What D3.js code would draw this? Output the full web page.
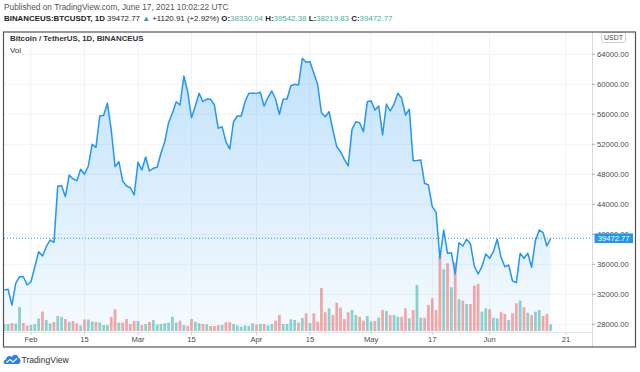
<!DOCTYPE html>
<html>
<head>
<meta charset="utf-8">
<style>
body { margin: 0; background: #fff; }
svg { display: block; font-family: "Liberation Sans", Arial, sans-serif; }
</style>
</head>
<body>
<svg id="chart" width="640" height="372"></svg>
<script src="https://cdn.jsdelivr.net/npm/d3@7"></script>
<script>
// daily closes, BINANCEUS BTCUSDT, from 2021-01-25 to 2021-06-17
var startDate = "2021-01-25";
var closes = [
  32570, 32670, 30570, 33470, 34350, 34340, 33240, 33680, 35680, 37680,
  37110, 38350, 39240, 38930, 46440, 46480, 45010, 47910, 47370, 47150,
  48670, 48000, 49110, 52000, 51600, 55810, 55830, 57470, 53910, 49010,
  49680, 47110, 46440, 46210, 45240, 49600, 48570, 50310, 48440, 48800,
  48930, 50800, 52350, 54880, 56130, 57680, 57240, 61110, 59010, 55550,
  57110, 58800, 57680, 58040, 58000, 57240, 54130, 54350, 52350, 51370,
  55010, 55770, 55780, 57680, 58800, 58810, 58790, 58930, 57110, 58210,
  59110, 58040, 56000, 58000, 58040, 59810, 60000, 59910, 63470, 62950,
  63050, 61470, 60000, 56210, 55680, 56350, 53910, 51680, 51010, 50000,
  49110, 54000, 55010, 54880, 53680, 57680, 57800, 56570, 57110, 53240,
  57370, 56440, 57370, 58800, 58130, 55910, 56670, 49810, 49850, 49910,
  46800, 46570, 43680, 42930, 36800, 40570, 37470, 37550, 34710, 38880,
  38440, 39330, 38710, 35770, 34710, 35680, 37370, 36800, 37680, 39330,
  36930, 35680, 35910, 33770, 33550, 37470, 36800, 37470, 35600, 39150,
  40570, 40210, 38440, 39472.77
];
var volumes = [
  700, 700, 800, 750, 2400, 800, 550, 600, 700, 1250,
  1950, 1100, 750, 900, 1500, 1400, 1200, 900, 1000, 750,
  550, 1150, 1150, 950, 900, 850, 600, 600, 1400, 2150,
  850, 850, 1200, 700, 1000, 1000, 600, 700, 900, 1100,
  650, 700, 770, 830, 1430, 830, 1030, 600, 500, 1200,
  930, 770, 700, 670, 500, 500, 570, 600, 870, 870,
  700, 570, 430, 570, 500, 770, 630, 700, 700, 570,
  700, 1030, 1600, 700, 700, 1170, 1100, 830, 1300, 1770,
  800, 1770, 930, 4300, 1870, 2270, 1600, 2830, 2330, 1200,
  1870, 2100, 1600, 1430, 1030, 1500, 930, 1000, 1330, 2100,
  2000, 1600, 1600, 1430, 1430, 2270, 1270, 2100, 4600, 1330,
  1330, 2600, 3270, 2100, 7500, 6170, 6770, 4370, 6870, 3170,
  3030, 2700, 2700, 4530, 4700, 1930, 2270, 2170, 1330, 1270,
  1870, 1700, 1100, 1770, 2770, 3030, 2370, 1830, 1600, 1930,
  2100, 1500, 1700, 670
];
var priceTicks = [28000, 32000, 36000, 40000, 44000, 48000, 52000, 56000, 60000, 64000];
var timeTicks = ["2021-02-01", "2021-02-15", "2021-03-01", "2021-03-15", "2021-04-01",
  "2021-04-15", "2021-05-01", "2021-05-17", "2021-06-01", "2021-06-21"];
var timeLabels = ["Feb", "15", "Mar", "15", "Apr", "15", "May", "17", "Jun", "21"];
var ohlcNames = ["O", "H", "L", "C"];
var ohlcValues = ["38330.04", "39542.38", "38219.83", "39472.77"];
var lastClose = 39472.77;

var svg = d3.select("#chart");
var blue = "#2196f3", grid = "#f0f3fa", axisText = "#4a4a4a";
var pane = { left: 4, right: 592, top: 32, bottom: 332 };

var parse = d3.utcParse("%Y-%m-%d");
var t0 = parse(startDate);
var data = closes.map(function(c, i) {
  return { date: d3.utcDay.offset(t0, i), close: c, vol: volumes[i],
           up: i === 0 || c >= closes[i - 1] };
});

var x = d3.scaleUtc().domain([parse("2021-02-01"), parse("2021-06-21")]).range([31, 566]);
var y = d3.scaleLinear().domain([28000, 64000]).range([324.3, 54.3]);
var yv = d3.scaleLinear().domain([0, d3.max(volumes)]).range([pane.bottom - 1, 256]);
var step = x(d3.utcDay.offset(t0, 1)) - x(t0);

var defs = svg.append("defs");
defs.append("clipPath").attr("id", "paneClip").append("rect")
  .attr("x", pane.left).attr("y", pane.top)
  .attr("width", pane.right - pane.left).attr("height", pane.bottom - pane.top);
var grad = defs.append("linearGradient").attr("id", "areaFill")
  .attr("gradientUnits", "userSpaceOnUse")
  .attr("x1", 0).attr("x2", 0).attr("y1", y(64000)).attr("y2", pane.bottom);
grad.append("stop").attr("offset", 0).attr("stop-color", blue).attr("stop-opacity", 0.28);
grad.append("stop").attr("offset", 1).attr("stop-color", blue).attr("stop-opacity", 0.04);

// header
svg.append("text").attr("x", 4).attr("y", 10)
  .attr("font-size", 8.3).attr("fill", "#555")
  .text("Published on TradingView.com, June 17, 2021 10:02:22 UTC");

var h2 = svg.append("text").attr("x", 4).attr("y", 20.5).attr("font-size", 7.9).attr("fill", "#222");
h2.append("tspan").attr("font-weight", "bold").text("BINANCEUS:BTCUSDT, 1D ");
h2.append("tspan").text("39472.77 ");
h2.append("tspan").attr("fill", "#26a69a").text("\u25B2");
h2.append("tspan").text(" +1120.91 (+2.92%) ");
ohlcNames.forEach(function(n, i) {
  h2.append("tspan").attr("font-weight", "bold").text(n + ":");
  h2.append("tspan").attr("fill", "#3bb3a6").text(ohlcValues[i] + (i < 3 ? " " : ""));
});

var plot = svg.append("g").attr("clip-path", "url(#paneClip)");

// grid
plot.selectAll(".hgrid").data(priceTicks).enter().append("line")
  .attr("x1", pane.left).attr("x2", pane.right)
  .attr("y1", function(d) { return y(d); }).attr("y2", function(d) { return y(d); })
  .attr("stroke", grid);
plot.selectAll(".vgrid").data(timeTicks).enter().append("line")
  .attr("x1", function(d) { return x(parse(d)); }).attr("x2", function(d) { return x(parse(d)); })
  .attr("y1", pane.top).attr("y2", pane.bottom)
  .attr("stroke", grid);

// area
plot.append("path").datum(data)
  .attr("fill", "url(#areaFill)")
  .attr("d", d3.area().x(function(d) { return x(d.date); })
    .y0(pane.bottom).y1(function(d) { return y(d.close); }));

// volume
plot.selectAll(".vol").data(data).enter().append("rect")
  .attr("x", function(d) { return x(d.date) - step * 0.36; })
  .attr("width", step * 0.72)
  .attr("y", function(d) { return yv(d.vol); })
  .attr("height", function(d) { return pane.bottom - 1 - yv(d.vol); })
  .attr("fill", function(d) { return d.up ? "#26a69a" : "#ef5350"; })
  .attr("fill-opacity", 0.5);

// price line
plot.append("path").datum(data)
  .attr("fill", "none").attr("stroke", blue).attr("stroke-width", 1.5)
  .attr("stroke-linejoin", "round")
  .attr("d", d3.line().x(function(d) { return x(d.date); }).y(function(d) { return y(d.close); }));

// last price line
plot.append("line")
  .attr("x1", pane.left).attr("x2", pane.right)
  .attr("y1", y(lastClose)).attr("y2", y(lastClose))
  .attr("stroke", blue).attr("stroke-dasharray", "1,2");

// chart title
svg.append("text").attr("x", 10).attr("y", 41).attr("font-size", 7.9)
  .attr("font-weight", "bold").attr("fill", "#333")
  .text("Bitcoin / TetherUS, 1D, BINANCEUS");
svg.append("text").attr("x", 10).attr("y", 53).attr("font-size", 7.9)
  .attr("fill", "#333").text("Vol");

// price axis
svg.append("line").attr("x1", pane.right + 0.5).attr("x2", pane.right + 0.5)
  .attr("y1", pane.top).attr("y2", 347).attr("stroke", "#d9d9d9");
var pa = svg.append("g");
pa.selectAll("line").data(priceTicks).enter().append("line")
  .attr("x1", pane.right).attr("x2", pane.right + 3)
  .attr("y1", function(d) { return y(d); }).attr("y2", function(d) { return y(d); })
  .attr("stroke", "#aaa");
pa.selectAll("text").data(priceTicks).enter().append("text")
  .attr("x", 597).attr("y", function(d) { return y(d); })
  .attr("dy", "0.35em").attr("font-size", 7.6).attr("fill", axisText)
  .text(function(d) { return d3.format(".2f")(d); });

// last price label sits over the 40000 tick, as in the snapshot
var ly = y(lastClose);
svg.append("rect").attr("x", 594.5).attr("y", ly - 4.8).attr("width", 38.5).attr("height", 9.6)
  .attr("fill", blue);
svg.append("text").attr("x", 613.7).attr("y", ly).attr("dy", "0.35em")
  .attr("text-anchor", "middle").attr("font-size", 7.6).attr("fill", "#fff")
  .text(d3.format(".2f")(lastClose));

svg.append("rect").attr("x", 601.5).attr("y", 32.5).attr("width", 24).attr("height", 10)
  .attr("rx", 2).attr("fill", "#fff").attr("stroke", "#cfcfcf");
svg.append("text").attr("x", 613.5).attr("y", 37.5).attr("dy", "0.35em")
  .attr("text-anchor", "middle").attr("font-size", 7).attr("fill", axisText).text("USDT");

// time axis
svg.append("line").attr("x1", pane.left).attr("x2", pane.right)
  .attr("y1", pane.bottom + 0.5).attr("y2", pane.bottom + 0.5).attr("stroke", "#e6e6e6");
var ta = svg.append("g");
ta.selectAll("line").data(timeTicks).enter().append("line")
  .attr("x1", function(d) { return x(parse(d)); }).attr("x2", function(d) { return x(parse(d)); })
  .attr("y1", pane.bottom).attr("y2", pane.bottom + 3).attr("stroke", "#ccc");
ta.selectAll("text").data(timeTicks).enter().append("text")
  .attr("x", function(d) { return x(parse(d)); }).attr("y", 339.5)
  .attr("dy", "0.35em").attr("text-anchor", "middle")
  .attr("font-size", 7.6).attr("fill", axisText)
  .text(function(d, i) { return timeLabels[i]; });

// frame
svg.append("rect").attr("x", 3.5).attr("y", 32).attr("width", 632).attr("height", 315)
  .attr("fill", "none").attr("stroke", "#555").attr("stroke-width", 1.2);

// footer logo
var logo = svg.append("g").attr("transform", "translate(4,354)");
logo.append("path").attr("fill", "#2f80ed")
  .attr("d", "M1,10 C-1,10 -1,6 2,5.5 C2,2 6,1 8,3 C9,0 14,0 14.5,4 C17,4 17.5,10 14,10 Z");
logo.append("path").attr("fill", "none").attr("stroke", "#fff").attr("stroke-width", 1.1)
  .attr("d", "M2.5,8.5 L6,5.5 L9,8 L13,4.5");
svg.append("text").attr("x", 21.5).attr("y", 363).attr("font-size", 8.6)
  .attr("fill", "#333").text("TradingView");
</script>
</body>
</html>
